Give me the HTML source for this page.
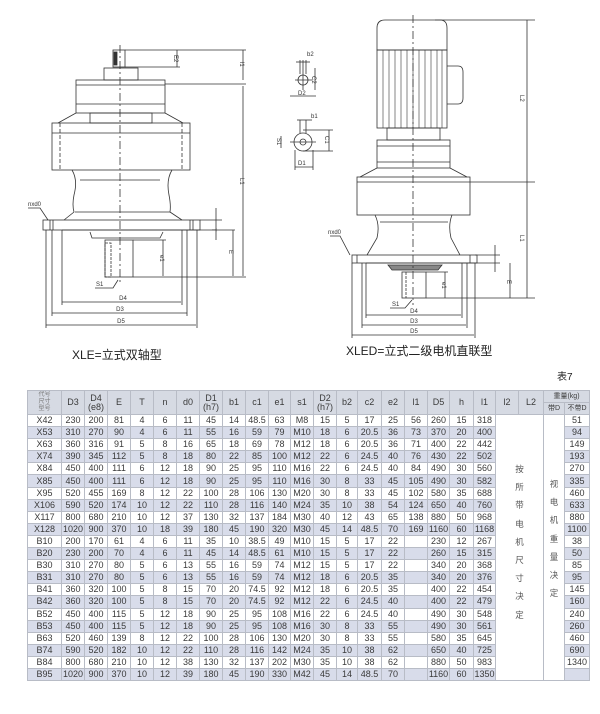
<!DOCTYPE html>
<html><head><meta charset="utf-8"><style>
body{margin:0;width:600px;height:714px;background:#fff;position:relative;overflow:hidden;font-family:"Liberation Sans","Noto Sans CJK SC",sans-serif;}
svg{position:absolute;left:0;top:0}
.g{position:absolute;left:27px;top:390px;display:grid;gap:1px;padding:1px;background:#b8bcc6;
grid-template-columns:33px 22px 22px 22px 22px 22px 22px 22px 22px 22px 21px 22px 22px 20px 23px 22px 22px 21px 23px 21px 22px 24px 20px 24px;
grid-template-rows:11px 11px repeat(22,11.1px);font-size:9px;color:#3a3a3a}
.g>*{display:flex;align-items:center;justify-content:center;overflow:hidden;white-space:nowrap;font-style:normal;text-decoration:none;background:#fff;line-height:9px}
.g>u{background:#d8dcea}
.g>.h{background:#d6dae3;grid-row:span 2;text-align:center}
.g>.hh{background:#d6dae3;font-size:7px}
.g>.m{grid-row:span 22;flex-direction:column;justify-content:flex-start;white-space:normal;font-size:8.5px;line-height:18.2px;color:#555;text-align:center}
.t{position:absolute;font-size:12px;color:#222}
</style></head><body>
<svg width="600" height="380" viewBox="0 0 600 380" fill="none" stroke="#333" stroke-width="0.8">
<rect x="113" y="50" width="12" height="17"/><rect x="114" y="52" width="3" height="13" fill="#333"/>
<rect x="104" y="68" width="34" height="12"/>
<rect x="76" y="80" width="89" height="33"/><line x1="76" y1="85" x2="165" y2="85"/><line x1="76" y1="104" x2="165" y2="104"/>
<path d="M76 113 L58 123 M165 113 L183 123"/><rect x="90" y="113" width="62" height="10"/>
<rect x="52" y="123" width="138" height="47"/><line x1="52" y1="133" x2="190" y2="133"/><line x1="60" y1="123" x2="60" y2="170" stroke-dasharray="4 2"/><line x1="182" y1="123" x2="182" y2="170" stroke-dasharray="4 2"/>
<path d="M72 170 Q78 180 74 195 Q72 205 74 212 L64 220 M172 170 Q166 180 169 195 Q171 205 170 212 L182 220"/>
<line x1="80" y1="180" x2="160" y2="180"/><line x1="75" y1="212" x2="170" y2="212"/>
<rect x="43" y="220" width="157" height="10"/><line x1="50" y1="220" x2="50" y2="230"/><line x1="53" y1="220" x2="53" y2="230"/><line x1="190" y1="220" x2="190" y2="230"/><line x1="193" y1="220" x2="193" y2="230"/>
<line x1="46" y1="230" x2="46" y2="328"/><line x1="52" y1="230" x2="52" y2="316"/><line x1="62" y1="230" x2="62" y2="305"/><line x1="182" y1="230" x2="182" y2="305"/><line x1="187" y1="230" x2="187" y2="316"/><line x1="197" y1="230" x2="197" y2="328"/>
<line x1="62" y1="230" x2="235" y2="230"/>
<path d="M90 232 L92 238 L160 238 L163 232"/>
<rect x="105" y="240" width="28" height="37"/><rect x="105" y="243" width="6" height="34" stroke-dasharray="3 1"/>
<line x1="120" y1="45" x2="120" y2="282" stroke-dasharray="8 3 2 3"/>
<line x1="62" y1="302" x2="181" y2="302"/><line x1="52" y1="313" x2="187" y2="313"/><line x1="46" y1="325" x2="196" y2="325"/>
<line x1="125" y1="50" x2="246" y2="50"/><line x1="165" y1="84" x2="246" y2="84"/><line x1="133" y1="277" x2="246" y2="277"/>
<line x1="243" y1="50" x2="243" y2="80"/><line x1="243" y1="86" x2="243" y2="276"/><line x1="177" y1="50" x2="177" y2="67"/><line x1="125" y1="67" x2="180" y2="67"/>
<line x1="233" y1="230" x2="233" y2="276"/><line x1="216" y1="208" x2="216" y2="240"/><line x1="200" y1="220" x2="222" y2="220"/>
<line x1="163" y1="240" x2="163" y2="276"/><line x1="133" y1="240" x2="166" y2="240"/>
<path d="M28 208 L40 208 L48 220"/><path d="M95 288 L113 288 L118 280"/>
<path d="M377 50 L377 28 Q377 20 385 20 L440 20 Q447 20 447 28 L447 50 Z"/>
<rect x="377" y="50" width="70" height="78"/>
<g stroke-width="0.6"><line x1="383" y1="50" x2="383" y2="128"/><line x1="389" y1="50" x2="389" y2="128"/><line x1="395" y1="50" x2="395" y2="128"/><line x1="401" y1="50" x2="401" y2="128"/><line x1="407" y1="50" x2="407" y2="128"/><line x1="413" y1="50" x2="413" y2="128"/><line x1="419" y1="50" x2="419" y2="128"/><line x1="425" y1="50" x2="425" y2="128"/><line x1="431" y1="50" x2="431" y2="128"/><line x1="437" y1="50" x2="437" y2="128"/><line x1="442" y1="50" x2="442" y2="128"/></g>
<path d="M447 66 L458 66 Q463 66 463 72 L463 98 Q463 104 458 104 L447 104"/>
<rect x="387" y="128" width="53" height="12"/>
<rect x="377" y="140" width="73" height="28"/><line x1="377" y1="146" x2="450" y2="146"/><line x1="377" y1="162" x2="450" y2="162"/>
<path d="M377 168 L360 177 M450 168 L467 177"/>
<rect x="357" y="177" width="113" height="38"/><line x1="357" y1="182" x2="470" y2="182"/>
<path d="M375 215 Q380 225 377 238 L367 255 M452 215 Q448 225 451 238 L460 255"/><line x1="380" y1="222" x2="448" y2="222"/>
<rect x="352" y="255" width="125" height="8"/><line x1="357" y1="255" x2="357" y2="263"/><line x1="470" y1="255" x2="470" y2="263"/>
<line x1="352" y1="263" x2="352" y2="338"/><line x1="362" y1="263" x2="362" y2="328"/><line x1="366" y1="263" x2="366" y2="318"/><line x1="462" y1="263" x2="462" y2="318"/><line x1="467" y1="263" x2="467" y2="328"/><line x1="475" y1="263" x2="475" y2="338"/>
<line x1="366" y1="263" x2="500" y2="263"/>
<path d="M388 265 L442 265 L438 270 L392 270 Z" fill="#888"/>
<rect x="402" y="272" width="24" height="26"/><line x1="406" y1="272" x2="406" y2="298" stroke-dasharray="3 1"/>
<line x1="413" y1="15" x2="413" y2="305" stroke-dasharray="8 3 2 3"/>
<line x1="366" y1="315" x2="461" y2="315"/><line x1="362" y1="325" x2="466" y2="325"/><line x1="352" y1="335" x2="474" y2="335"/>
<line x1="435" y1="20" x2="535" y2="20"/><line x1="470" y1="182" x2="535" y2="182"/><line x1="426" y1="298" x2="535" y2="298"/>
<line x1="527" y1="20" x2="527" y2="182"/><line x1="527" y1="182" x2="527" y2="298"/>
<line x1="510" y1="263" x2="510" y2="298"/><line x1="495" y1="245" x2="495" y2="272"/><line x1="475" y1="255" x2="500" y2="255"/>
<line x1="445" y1="272" x2="445" y2="298"/><line x1="426" y1="272" x2="448" y2="272"/>
<path d="M330 236 L340 236 L350 255"/><path d="M390 308 L405 308 L412 300"/>
<circle cx="303" cy="80" r="5"/><line x1="295" y1="80" x2="312" y2="80"/><line x1="303" y1="60" x2="303" y2="90"/>
<line x1="296" y1="62" x2="310" y2="62"/><line x1="300" y1="60" x2="300" y2="74"/><line x1="306" y1="60" x2="306" y2="74"/>
<line x1="315" y1="68" x2="315" y2="90"/><line x1="290" y1="96" x2="316" y2="96"/>
<circle cx="303" cy="142" r="9"/><circle cx="303" cy="142" r="3"/><line x1="290" y1="142" x2="316" y2="142"/>
<line x1="300" y1="120" x2="300" y2="133"/><line x1="306" y1="120" x2="306" y2="133"/><line x1="297" y1="120" x2="312" y2="120"/>
<line x1="303" y1="130" x2="333" y2="130"/><line x1="303" y1="151" x2="333" y2="151"/><line x1="329" y1="130" x2="329" y2="151"/>
<line x1="281" y1="136" x2="281" y2="148"/><line x1="295" y1="167" x2="313" y2="167"/><line x1="295" y1="150" x2="295" y2="170"/><line x1="313" y1="150" x2="313" y2="170"/>
</svg>
<svg width="600" height="380" style="font-family:'Liberation Sans',sans-serif" font-size="6" fill="#333">
<text x="123" y="300" text-anchor="middle">D4</text><text x="120" y="311" text-anchor="middle">D3</text><text x="121" y="323" text-anchor="middle">D5</text>
<text x="28" y="206">nxd0</text><text x="96" y="286">S1</text>
<text x="240" y="178" transform="rotate(90 240 178)">L1</text><text x="240" y="62" transform="rotate(90 240 62)">l1</text>
<text x="174" y="55" transform="rotate(90 174 55)">E2</text><text x="160" y="255" transform="rotate(90 160 255)">e1</text>
<text x="229" y="250" transform="rotate(90 229 250)">E</text><text x="212" y="228" transform="rotate(90 212 228)">T</text>
<text x="414" y="313" text-anchor="middle">D4</text><text x="414" y="323" text-anchor="middle">D3</text><text x="414" y="333" text-anchor="middle">D5</text>
<text x="328" y="234">nxd0</text><text x="392" y="306">S1</text>
<text x="520" y="95" transform="rotate(90 520 95)">L2</text><text x="520" y="235" transform="rotate(90 520 235)">L1</text>
<text x="507" y="280" transform="rotate(90 507 280)">E</text><text x="442" y="282" transform="rotate(90 442 282)">e1</text>
<text x="307" y="56">b2</text><text x="298" y="95">D2</text><text x="312" y="76" transform="rotate(90 312 76)">C2</text>
<text x="311" y="118">b1</text><text x="298" y="165">D1</text><text x="325" y="136" transform="rotate(90 325 136)">C1</text><text x="277" y="138" transform="rotate(90 277 138)">S1</text>
</svg>
<div class="t" style="left:72px;top:346px">XLE=立式双轴型</div>
<div class="t" style="left:346px;top:342px">XLED=立式二级电机直联型</div>
<div class="t" style="left:557px;top:368px;font-size:10px">表7</div>
<div class="g">
<i class="h" style="font-size:6px;line-height:7px;color:#777">代号<br>尺寸<br>型号</i><i class="h">D3</i><i class="h">D4<br>(e8)</i><i class="h">E</i><i class="h">T</i><i class="h">n</i><i class="h">d0</i><i class="h">D1<br>(h7)</i><i class="h">b1</i><i class="h">c1</i><i class="h">e1</i><i class="h">s1</i><i class="h">D2<br>(h7)</i><i class="h">b2</i><i class="h">c2</i><i class="h">e2</i><i class="h">l1</i><i class="h">D5</i><i class="h">h</i><i class="h">l1</i><i class="h">l2</i><i class="h">L2</i><i class="hh" style="grid-column:span 2">重量(kg)</i><i class="hh">带D</i><i class="hh">不带D</i>
<i>X42</i><i>230</i><i>200</i><i>81</i><i>4</i><i>6</i><i>11</i><i>45</i><i>14</i><i>48.5</i><i>63</i><i>M8</i><i>15</i><i>5</i><i>17</i><i>25</i><i>56</i><i>260</i><i>15</i><i>318</i><i class="m" style="grid-column:span 2;padding-top:45px">按<br>所<br>带<br>电<br>机<br>尺<br>寸<br>决<br>定</i><i class="m" style="padding-top:60px">视<br>电<br>机<br>重<br>量<br>决<br>定</i><i>51</i>
<u>X53</u><u>310</u><u>270</u><u>90</u><u>4</u><u>6</u><u>11</u><u>55</u><u>16</u><u>59</u><u>79</u><u>M10</u><u>18</u><u>6</u><u>20.5</u><u>36</u><u>73</u><u>370</u><u>20</u><u>400</u><u>94</u>
<i>X63</i><i>360</i><i>316</i><i>91</i><i>5</i><i>8</i><i>16</i><i>65</i><i>18</i><i>69</i><i>78</i><i>M12</i><i>18</i><i>6</i><i>20.5</i><i>36</i><i>71</i><i>400</i><i>22</i><i>442</i><i>149</i>
<u>X74</u><u>390</u><u>345</u><u>112</u><u>5</u><u>8</u><u>18</u><u>80</u><u>22</u><u>85</u><u>100</u><u>M12</u><u>22</u><u>6</u><u>24.5</u><u>40</u><u>76</u><u>430</u><u>22</u><u>502</u><u>193</u>
<i>X84</i><i>450</i><i>400</i><i>111</i><i>6</i><i>12</i><i>18</i><i>90</i><i>25</i><i>95</i><i>110</i><i>M16</i><i>22</i><i>6</i><i>24.5</i><i>40</i><i>84</i><i>490</i><i>30</i><i>560</i><i>270</i>
<u>X85</u><u>450</u><u>400</u><u>111</u><u>6</u><u>12</u><u>18</u><u>90</u><u>25</u><u>95</u><u>110</u><u>M16</u><u>30</u><u>8</u><u>33</u><u>45</u><u>105</u><u>490</u><u>30</u><u>582</u><u>335</u>
<i>X95</i><i>520</i><i>455</i><i>169</i><i>8</i><i>12</i><i>22</i><i>100</i><i>28</i><i>106</i><i>130</i><i>M20</i><i>30</i><i>8</i><i>33</i><i>45</i><i>102</i><i>580</i><i>35</i><i>688</i><i>460</i>
<u>X106</u><u>590</u><u>520</u><u>174</u><u>10</u><u>12</u><u>22</u><u>110</u><u>28</u><u>116</u><u>140</u><u>M24</u><u>35</u><u>10</u><u>38</u><u>54</u><u>124</u><u>650</u><u>40</u><u>760</u><u>633</u>
<i>X117</i><i>800</i><i>680</i><i>210</i><i>10</i><i>12</i><i>37</i><i>130</i><i>32</i><i>137</i><i>184</i><i>M30</i><i>40</i><i>12</i><i>43</i><i>65</i><i>138</i><i>880</i><i>50</i><i>968</i><i>880</i>
<u>X128</u><u>1020</u><u>900</u><u>370</u><u>10</u><u>18</u><u>39</u><u>180</u><u>45</u><u>190</u><u>320</u><u>M30</u><u>45</u><u>14</u><u>48.5</u><u>70</u><u>169</u><u>1160</u><u>60</u><u>1168</u><u>1100</u>
<i>B10</i><i>200</i><i>170</i><i>61</i><i>4</i><i>6</i><i>11</i><i>35</i><i>10</i><i>38.5</i><i>49</i><i>M10</i><i>15</i><i>5</i><i>17</i><i>22</i><i></i><i>230</i><i>12</i><i>267</i><i>38</i>
<u>B20</u><u>230</u><u>200</u><u>70</u><u>4</u><u>6</u><u>11</u><u>45</u><u>14</u><u>48.5</u><u>61</u><u>M10</u><u>15</u><u>5</u><u>17</u><u>22</u><u></u><u>260</u><u>15</u><u>315</u><u>50</u>
<i>B30</i><i>310</i><i>270</i><i>80</i><i>5</i><i>6</i><i>13</i><i>55</i><i>16</i><i>59</i><i>74</i><i>M12</i><i>15</i><i>5</i><i>17</i><i>22</i><i></i><i>340</i><i>20</i><i>368</i><i>85</i>
<u>B31</u><u>310</u><u>270</u><u>80</u><u>5</u><u>6</u><u>13</u><u>55</u><u>16</u><u>59</u><u>74</u><u>M12</u><u>18</u><u>6</u><u>20.5</u><u>35</u><u></u><u>340</u><u>20</u><u>376</u><u>95</u>
<i>B41</i><i>360</i><i>320</i><i>100</i><i>5</i><i>8</i><i>15</i><i>70</i><i>20</i><i>74.5</i><i>92</i><i>M12</i><i>18</i><i>6</i><i>20.5</i><i>35</i><i></i><i>400</i><i>22</i><i>454</i><i>145</i>
<u>B42</u><u>360</u><u>320</u><u>100</u><u>5</u><u>8</u><u>15</u><u>70</u><u>20</u><u>74.5</u><u>92</u><u>M12</u><u>22</u><u>6</u><u>24.5</u><u>40</u><u></u><u>400</u><u>22</u><u>479</u><u>160</u>
<i>B52</i><i>450</i><i>400</i><i>115</i><i>5</i><i>12</i><i>18</i><i>90</i><i>25</i><i>95</i><i>108</i><i>M16</i><i>22</i><i>6</i><i>24.5</i><i>40</i><i></i><i>490</i><i>30</i><i>548</i><i>240</i>
<u>B53</u><u>450</u><u>400</u><u>115</u><u>5</u><u>12</u><u>18</u><u>90</u><u>25</u><u>95</u><u>108</u><u>M16</u><u>30</u><u>8</u><u>33</u><u>55</u><u></u><u>490</u><u>30</u><u>561</u><u>260</u>
<i>B63</i><i>520</i><i>460</i><i>139</i><i>8</i><i>12</i><i>22</i><i>100</i><i>28</i><i>106</i><i>130</i><i>M20</i><i>30</i><i>8</i><i>33</i><i>55</i><i></i><i>580</i><i>35</i><i>645</i><i>460</i>
<u>B74</u><u>590</u><u>520</u><u>182</u><u>10</u><u>12</u><u>22</u><u>110</u><u>28</u><u>116</u><u>142</u><u>M24</u><u>35</u><u>10</u><u>38</u><u>62</u><u></u><u>650</u><u>40</u><u>725</u><u>690</u>
<i>B84</i><i>800</i><i>680</i><i>210</i><i>10</i><i>12</i><i>38</i><i>130</i><i>32</i><i>137</i><i>202</i><i>M30</i><i>35</i><i>10</i><i>38</i><i>62</i><i></i><i>880</i><i>50</i><i>983</i><i>1340</i>
<u>B95</u><u>1020</u><u>900</u><u>370</u><u>10</u><u>12</u><u>39</u><u>180</u><u>45</u><u>190</u><u>330</u><u>M42</u><u>45</u><u>14</u><u>48.5</u><u>70</u><u></u><u>1160</u><u>60</u><u>1350</u><u></u>
</div>
</body></html>
